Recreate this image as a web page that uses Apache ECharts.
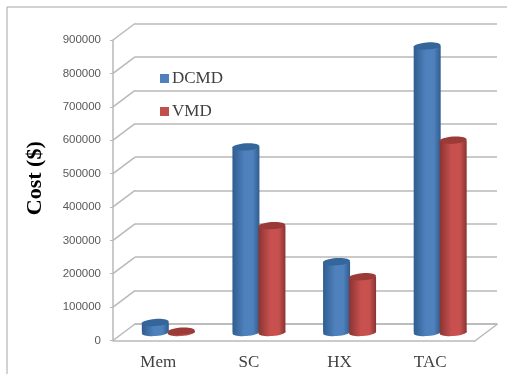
<!DOCTYPE html>
<html>
<head>
<meta charset="utf-8">
<title>Cost</title>
<style>html,body{margin:0;padding:0;background:#fff}</style>
</head>
<body>
<div id="main" style="width:507px;height:374px"></div>
<script src="https://cdn.jsdelivr.net/npm/echarts@6/dist/echarts.min.js"></script>
<script>
var categories = ['Mem', 'SC', 'HX', 'TAC'];
var dcmd = [30000, 556000, 212000, 858000];
var vmd = [4000, 320000, 167000, 576000];
var yTicks = [0, 100000, 200000, 300000, 400000, 500000, 600000, 700000, 800000, 900000];

// depth of the fake 3d box, bars stand half way in
var depthX = 22, depthY = 16.5;
var barW = 27, barGap = 26;

function cylinder(params, api, side, dark, mid, top) {
    var base = api.coord([api.value(0), 0]);
    var head = api.coord([api.value(0), api.value(1)]);
    var cx = base[0] + depthX / 2 - 1 + side * barGap / 2;
    var y0 = base[1] - 8, y1 = head[1] - 8;
    var rx = barW / 2, ry = 3.6;
    var tilt = 0.07;
    var grad = new echarts.graphic.LinearGradient(0, 0, 1, 0, [
        {offset: 0, color: dark},
        {offset: 0.45, color: mid},
        {offset: 0.75, color: mid},
        {offset: 1, color: dark}
    ]);
    return {
        type: 'group',
        children: [
            {type: 'ellipse', originX: cx, originY: y0, rotation: tilt, shape: {cx: cx, cy: y0, rx: rx, ry: ry}, style: {fill: grad}},
            {type: 'rect', shape: {x: cx - rx, y: y1, width: barW, height: y0 - y1}, style: {fill: grad}},
            {type: 'ellipse', originX: cx, originY: y1, rotation: tilt, shape: {cx: cx, cy: y1, rx: rx, ry: ry}, style: {fill: top}}
        ]
    };
}

var wallColor = '#b9b9b9';
var option = {
    backgroundColor: '#fff',
    animation: false,
    textStyle: {fontFamily: 'Liberation Serif'},
    graphic: [
        {type: 'line', shape: {x1: 7, y1: 7, x2: 507, y2: 7}, style: {stroke: '#a6a6a6', lineWidth: 1}},
        {type: 'line', shape: {x1: 7, y1: 7, x2: 7, y2: 374}, style: {stroke: '#a6a6a6', lineWidth: 1}}
    ],
    legend: {
        data: ['DCMD', 'VMD'],
        orient: 'vertical',
        left: 155,
        top: 65,
        itemWidth: 9,
        itemHeight: 9,
        itemGap: 16,
        icon: 'rect',
        textStyle: {fontFamily: 'Liberation Serif', fontSize: 17, color: '#404040', padding: [0, 0, 0, -2]}
    },
    grid: [
        {left: 113, top: 40, width: 362.5, height: 300.5},
        {left: 135, top: 23.5, width: 362, height: 300.5}
    ],
    xAxis: [
        {
            type: 'category', gridIndex: 0, data: categories,
            axisLine: {lineStyle: {color: wallColor, width: 1.5}},
            axisTick: {show: false},
            axisLabel: {fontFamily: 'Liberation Serif', fontSize: 17, color: '#404040', margin: 14}
        },
        {
            type: 'category', gridIndex: 1, data: categories,
            axisLine: {show: true, lineStyle: {color: wallColor, width: 1.5}},
            axisTick: {show: false},
            axisLabel: {show: false}
        }
    ],
    yAxis: [
        {
            type: 'value', gridIndex: 0, min: 0, max: 900000, interval: 100000,
            name: 'Cost ($)',
            nameLocation: 'middle',
            nameGap: 67,
            nameTextStyle: {fontFamily: 'Liberation Serif', fontWeight: 'bold', fontSize: 22, color: '#000', padding: [0, 0, 0, 24]},
            axisLine: {show: true, lineStyle: {color: wallColor, width: 1.5}},
            axisTick: {show: true, length: 3, lineStyle: {color: wallColor}},
            axisLabel: {
                fontFamily: 'Liberation Sans', fontSize: 11.5, color: '#595959', margin: 12, padding: [5, 0, 0, 0],
                formatter: function (v) { return String(v); }
            },
            splitLine: {show: false}
        },
        {
            type: 'value', gridIndex: 1, min: 0, max: 900000, interval: 100000,
            axisLine: {show: false},
            axisTick: {show: false},
            axisLabel: {show: false},
            splitLine: {show: true, lineStyle: {color: wallColor, width: 1.5}}
        }
    ],
    series: [
        {
            // side wall diagonals
            type: 'custom', name: 'wall', silent: true, xAxisIndex: 0, yAxisIndex: 0,
            data: yTicks.map(function (t) { return [0, t]; }),
            renderItem: function (params, api) {
                var p = api.coord([0, api.value(1)]);
                var x = params.coordSys.x;
                return {type: 'line', shape: {x1: x, y1: p[1], x2: x + depthX, y2: p[1] - depthY}, style: {stroke: wallColor, lineWidth: 1.5}};
            }
        },
        {
            // right edge of the floor
            type: 'custom', name: 'floor', silent: true, xAxisIndex: 0, yAxisIndex: 0,
            data: [[0, 0]],
            renderItem: function (params, api) {
                var c = params.coordSys;
                var y = api.coord([0, 0])[1];
                return {type: 'line', shape: {x1: c.x + c.width, y1: y, x2: c.x + c.width + depthX, y2: y - depthY}, style: {stroke: wallColor, lineWidth: 1.5}};
            }
        },
        {
            type: 'custom', name: 'DCMD', xAxisIndex: 0, yAxisIndex: 0, z: 3,
            itemStyle: {color: '#4f81bd'},
            data: dcmd.map(function (v, i) { return [i, v]; }),
            renderItem: function (params, api) {
                return cylinder(params, api, -1, '#2f5d8f', '#4f81bd', '#34659b');
            }
        },
        {
            type: 'custom', name: 'VMD', xAxisIndex: 0, yAxisIndex: 0, z: 4,
            itemStyle: {color: '#c0504d'},
            data: vmd.map(function (v, i) { return [i, v]; }),
            renderItem: function (params, api) {
                return cylinder(params, api, 1, '#8a3432', '#c8514f', '#9b3b38');
            }
        }
    ]
};

var myChart = echarts.init(document.getElementById('main'));
myChart.setOption(option);
</script>
</body>
</html>
